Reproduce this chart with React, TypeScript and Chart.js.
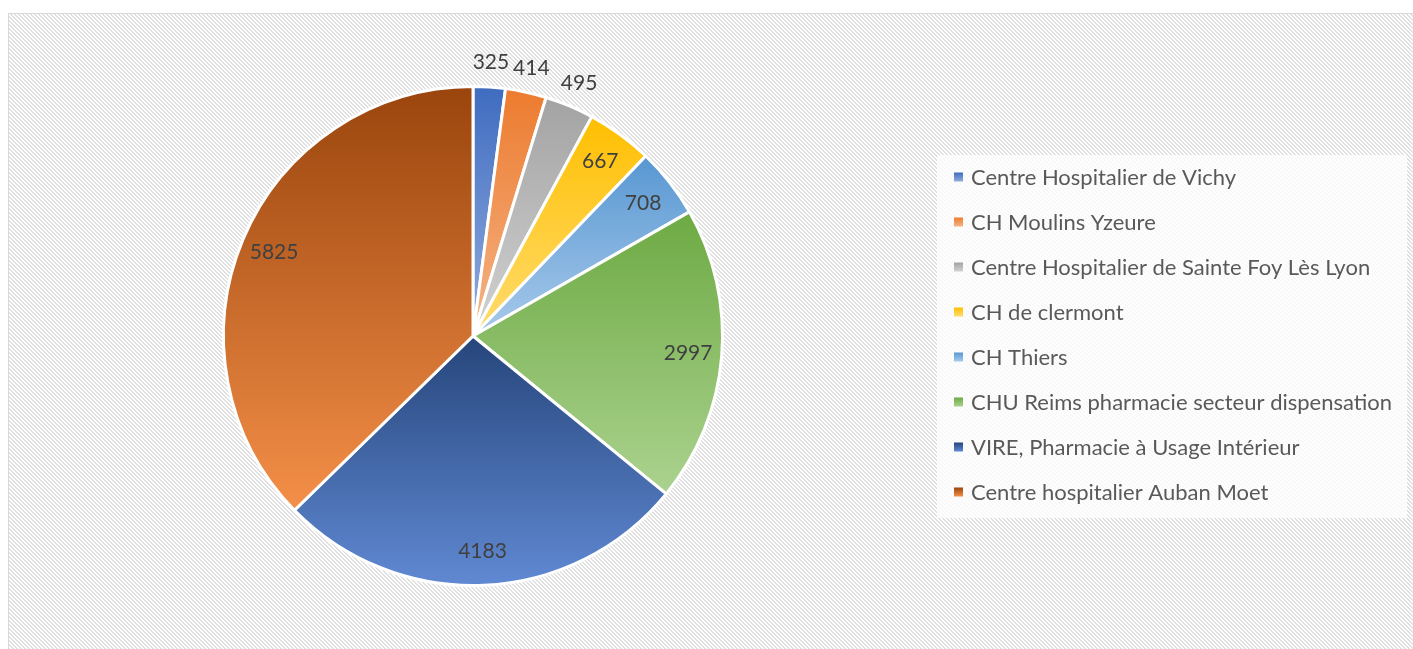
import React, { useEffect, useRef } from "react";
import { Chart, registerables } from "chart.js";

Chart.register(...registerables);

const labels = [
  "Centre Hospitalier de Vichy",
  "CH Moulins Yzeure",
  "Centre Hospitalier de Sainte Foy Lès Lyon",
  "CH de clermont",
  "CH Thiers",
  "CHU Reims pharmacie secteur dispensation",
  "VIRE, Pharmacie à Usage Intérieur",
  "Centre hospitalier Auban Moet",
];
const values = [325, 414, 495, 667, 708, 2997, 4183, 5825];
const topColors = ["#3F6CC0", "#EC7B2E", "#A3A3A3", "#FFBF00", "#5897D2", "#6DAA43", "#26457B", "#9A450D"];
const bottomColors = ["#93ADDD", "#F5B487", "#D2D2D2", "#FFDC70", "#A8CAEA", "#ABD28F", "#6089D3", "#F48F48"];

const W = 1413;
const H = 649;
const FONT = "Lato, 'Open Sans', sans-serif";

function sliceGeom(chart: any, index: number) {
  const area = chart.chartArea;
  const cx = (area.left + area.right) / 2;
  const cy = (area.top + area.bottom) / 2;
  const r = (Math.min(area.right - area.left, area.bottom - area.top) - 3) / 2;
  const data = chart.data.datasets[0].data as number[];
  const total = data.reduce((a, b) => a + b, 0);
  let acc = 0;
  for (let i = 0; i < index; i++) acc += data[i];
  const a0 = -Math.PI / 2 + (acc / total) * Math.PI * 2;
  const a1 = a0 + (data[index] / total) * Math.PI * 2;
  return { cx, cy, r, a0, a1 };
}

function sliceYRange(g: { cx: number; cy: number; r: number; a0: number; a1: number }) {
  const ys = [g.cy, g.cy + g.r * Math.sin(g.a0), g.cy + g.r * Math.sin(g.a1)];
  for (let k = -4; k <= 8; k++) {
    const a = (k * Math.PI) / 2;
    if (a > g.a0 && a < g.a1) ys.push(g.cy + g.r * Math.sin(a));
  }
  return [Math.min(...ys), Math.max(...ys)];
}

function makePattern(ctx: CanvasRenderingContext2D) {
  const c = document.createElement("canvas");
  c.width = 4;
  c.height = 4;
  const p = c.getContext("2d")!;
  p.fillStyle = "#ffffff";
  p.fillRect(0, 0, 4, 4);
  p.fillStyle = "#e0e0e0";
  for (let y = 0; y < 4; y++) {
    p.fillRect(y % 4, y, 1, 1);
    p.fillRect((y + 1) % 4, y, 1, 1);
  }
  return ctx.createPattern(c, "repeat")!;
}

const backgroundPlugin = {
  id: "bgFrame",
  beforeDraw(chart: any) {
    const ctx = chart.ctx as CanvasRenderingContext2D;
    ctx.save();
    ctx.fillStyle = "#ffffff";
    ctx.fillRect(0, 0, W, H);
    ctx.fillStyle = makePattern(ctx);
    ctx.fillRect(9, 14, W, H);
    ctx.strokeStyle = "#d9d9d9";
    ctx.lineWidth = 1;
    ctx.strokeRect(8.5, 13.5, W + 10, H + 10);
    ctx.restore();
  },
};

const labelPlugin = {
  id: "sliceLabels",
  afterDatasetsDraw(chart: any) {
    const ctx = chart.ctx as CanvasRenderingContext2D;
    const meta = chart.getDatasetMeta(0);
    const data = chart.data.datasets[0].data as number[];
    ctx.save();
    ctx.font = `21px ${FONT}`;
    ctx.fillStyle = "#404040";
    ctx.textAlign = "center";
    ctx.textBaseline = "middle";
    meta.data.forEach((arc: any, i: number) => {
      const { x, y, startAngle, endAngle, outerRadius } = arc.getProps(
        ["x", "y", "startAngle", "endAngle", "outerRadius"],
        true
      );
      const mid = (startAngle + endAngle) / 2;
      const span = endAngle - startAngle;
      const f = span < 0.22 ? 1.1 : 0.865;
      ctx.fillText(String(data[i]), x + Math.cos(mid) * outerRadius * f, y + Math.sin(mid) * outerRadius * f);
    });
    ctx.restore();
  },
};

const legendPlugin = {
  id: "sideLegend",
  afterDraw(chart: any) {
    const ctx = chart.ctx as CanvasRenderingContext2D;
    const names = chart.data.labels as string[];
    ctx.save();
    ctx.fillStyle = "rgba(255,255,255,0.78)";
    ctx.fillRect(937, 155, 470, 363);
    ctx.font = `22px ${FONT}`;
    ctx.textAlign = "left";
    ctx.textBaseline = "middle";
    names.forEach((name, i) => {
      const cy = 177 + i * 45;
      const g = ctx.createLinearGradient(0, cy - 4.5, 0, cy + 4.5);
      g.addColorStop(0, topColors[i]);
      g.addColorStop(1, bottomColors[i]);
      ctx.fillStyle = g;
      ctx.fillRect(954, cy - 4.5, 9, 9);
      ctx.fillStyle = "#595959";
      ctx.fillText(name, 971, cy + 1);
    });
    ctx.restore();
  },
};

export default function App() {
  const ref = useRef<HTMLCanvasElement | null>(null);
  useEffect(() => {
    if (!ref.current) return;
    const chart = new Chart(ref.current, {
      type: "pie",
      data: {
        labels,
        datasets: [
          {
            data: values,
            borderColor: "#ffffff",
            borderWidth: 3,
            backgroundColor: (c: any) => {
              const i = c.dataIndex;
              if (i === undefined || !c.chart.chartArea) return topColors[0];
              const g = sliceGeom(c.chart, i);
              const [y0, y1] = sliceYRange(g);
              const grad = c.chart.ctx.createLinearGradient(0, y0, 0, y1);
              grad.addColorStop(0, topColors[i]);
              grad.addColorStop(1, bottomColors[i]);
              return grad;
            },
          },
        ],
      },
      options: {
        responsive: false,
        animation: false,
        events: [],
        devicePixelRatio: 1,
        layout: { padding: { left: 222, right: W - 724, top: 85, bottom: H - 587 } },
        plugins: {
          legend: { display: false },
          tooltip: { enabled: false },
        },
      },
      plugins: [backgroundPlugin, labelPlugin, legendPlugin],
    });
    return () => chart.destroy();
  }, []);
  return (
    <div style={{ position: "absolute", left: 0, top: 0, width: W, height: H, overflow: "hidden" }}>
      <canvas ref={ref} width={W} height={H} style={{ display: "block" }} />
    </div>
  );
}
